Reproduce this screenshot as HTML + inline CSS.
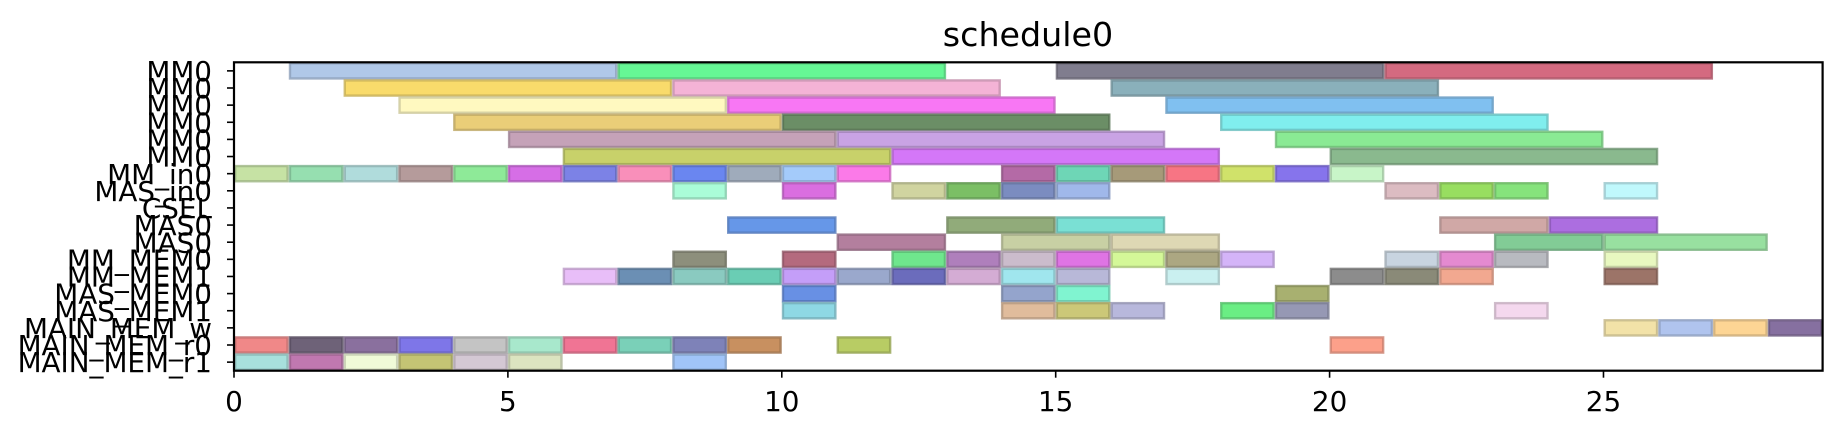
<!DOCTYPE html>
<html><head><meta charset="utf-8"><style>
html,body{margin:0;padding:0;background:#fff;}
svg{display:block;font-family:"DejaVu Sans","Liberation Sans",sans-serif;}
</style></head><body>
<svg id="chart" width="1842" height="438" viewBox="0 0 1842 438" xmlns="http://www.w3.org/2000/svg">
<text x="1028" y="46" font-size="33.3" text-anchor="middle" fill="#000">schedule0</text>
<g id="bars"></g>
<g id="axes"></g>
</svg>
<script>
const rowLabels = ["MM0","MM0","MM0","MM0","MM0","MM0","MM_in0","MAS_in0","CSEL","MAS0","MAS0","MM_MEM0","MM_MEM1","MAS_MEM0","MAS_MEM1","MAIN_MEM_w","MAIN_MEM_r0","MAIN_MEM_r1"];
const xTicks = [0,5,10,15,20,25];
const barRow = [0,0,0,0, 1,1,1, 2,2,2, 3,3,3, 4,4,4, 5,5,5,
 6,6,6,6,6,6,6,6,6,6,6,6,6,6,6,6,6,6,6,
 7,7,7,7,7,7,7,7,7,7,
 9,9,9,9,9, 10,10,10,10,10,
 11,11,11,11,11,11,11,11,11,11,11,11,11,
 12,12,12,12,12,12,12,12,12,12,12,12,12,12,12,
 13,13,13,13, 14,14,14,14,14,14,14, 15,15,15,15,
 16,16,16,16,16,16,16,16,16,16,16,16, 17,17,17,17,17,17,17];
const barStart = [1,7,15,21, 2,8,16, 3,9,17, 4,10,18, 5,11,19, 6,12,20,
 0,1,2,3,4,5,6,7,8,9,10,11,14,15,16,17,18,19,20,
 8,10,12,13,14,15,21,22,23,25,
 9,13,15,22,24, 11,14,16,23,25,
 8,10,12,13,14,15,16,17,18,21,22,23,25,
 6,7,8,9,10,11,12,13,14,15,17,20,21,22,25,
 10,14,15,19, 10,14,15,16,18,19,23, 25,26,27,28,
 0,1,2,3,4,5,6,7,8,9,11,20, 0,1,2,3,4,5,8];
const barEnd = [7,13,21,27, 8,14,22, 9,15,23, 10,16,24, 11,17,25, 12,18,26,
 1,2,3,4,5,6,7,8,9,10,11,12,15,16,17,18,19,20,21,
 9,11,13,14,15,16,22,23,24,26,
 11,15,17,24,26, 13,16,18,25,28,
 9,11,13,14,15,16,17,18,19,22,23,24,26,
 7,8,9,10,11,12,13,14,15,16,18,21,22,23,26,
 11,15,16,20, 11,15,16,17,19,20,24, 26,27,28,29,
 1,2,3,4,5,6,7,8,9,10,12,21, 1,2,3,4,5,6,9];
const barColor = ["#b0c8e8","#66f795","#807d8e","#d46a80", "#f9db6b","#f4b3d6","#8ab0bb", "#fff9c0","#f877f4","#80c0f0", "#eace78","#6b8e66","#80eeee", "#c5a2b8","#c9a3e4","#8aea94", "#c8d16a","#d477f8","#8ab98e",
 "#c6e2a4","#96dfb0","#b0dcdc","#b59b9b","#8eea98","#d66ee6","#7c82e6","#f98fba","#6a86f0","#9fabbb","#a4cbfa","#fb7ae8","#b46aa6","#6ed6b6","#a69a79","#f77584","#d0e26a","#8674ec","#c8f5c8",
 "#aafcd8","#da6ee0","#d0d4a0","#7bbf65","#7b8cc0","#a0b8ea","#dcbcc2","#98de60","#86e37c","#c0f8fc",
 "#6697e8","#91ab7a","#7ae0d4","#d0a8a6","#ac6ee0", "#b37f9e","#c8d0a4","#ded8b4","#82cc96","#98e0a0",
 "#8d8f7c","#b46a7e","#6fe68d","#af7fbc","#cbbccc","#df74e4","#d4f898","#aca782","#d4b4f8","#c8d4e0","#e48ad0","#b8bac0","#e8f8c0",
 "#e8bef8","#6b8fb4","#8acac0","#6acdb4","#c49ef8","#9aa8cc","#6b6cbc","#d4acd4","#a0e6ee","#b8b8d8","#caf0f0","#8c8c8c","#8a8a78","#f2a890","#9c7468",
 "#6890e4","#94a4cc","#80f4d0","#a8b070", "#8ed8e4","#e0bc9c","#ccc878","#b8b8dc","#6aee84","#9698b4","#f4d8ee", "#f2e2a8","#b0c4ee","#fdd594","#8670a0",
 "#f08888","#6e6278","#8a709e","#7e76e8","#c4c4c4","#a8e8cc","#f07494","#7ad0b8","#7e82b8","#c89060","#b8cc64","#fca08a",
 "#a8e0dc","#c078b0","#f0fbd8","#c4c474","#d4c8d4","#dce4c0","#a0c4f8"];

const X0=234, X1=1822.6, XMIN=0, XMAX=29;
const Y0=62.3, Y1=370.7;
const NS="http://www.w3.org/2000/svg";
function xs(v){return X0+(v-XMIN)/(XMAX-XMIN)*(X1-X0);}
const rowH=(Y1-Y0)/rowLabels.length;
function yc(r){return Y0+(r+0.5)*rowH;}
function darken(hex,f){const n=parseInt(hex.slice(1),16);const r=Math.round(((n>>16)&255)*f),g=Math.round(((n>>8)&255)*f),b=Math.round((n&255)*f);return `rgb(${r},${g},${b})`;}
function mk(tag,attrs,parent){const e=document.createElementNS(NS,tag);for(const k in attrs)e.setAttribute(k,attrs[k]);parent.appendChild(e);return e;}
const gb=document.getElementById('bars');
for(let i=0;i<barRow.length;i++){
  const x=xs(barStart[i]), w=xs(barEnd[i])-x, c=yc(barRow[i]);
  const r=mk('rect',{x:x+1.2,y:c-7.6,width:w-2.4,height:15.2,fill:barColor[i],stroke:darken(barColor[i],0.8),'stroke-width':2.4,'stroke-opacity':0.8},gb);
  
  
}
const ga=document.getElementById('axes');
const frame=mk('rect',{x:X0,y:Y0,width:X1-X0,height:Y1-Y0,fill:'none',stroke:'#000','stroke-width':2.2},ga);


for(let r=0;r<rowLabels.length;r++){
  const c=yc(r);
  const t=mk('line',{x1:X0-7,x2:X0,y1:c,y2:c,stroke:'#000','stroke-width':1.6},ga);
  
  
  const l=mk('text',{x:212,y:c+10.1,'font-size':27.8,'text-anchor':'end',fill:'#000'},ga);
  l.textContent=rowLabels[r];
  
  
}
for(const v of xTicks){
  const x=xs(v);
  const t=mk('line',{x1:x,x2:x,y1:Y1,y2:Y1+7,stroke:'#000','stroke-width':1.6},ga);
  
  
  const l=mk('text',{x:x,y:411,'font-size':27.8,'text-anchor':'middle',fill:'#000'},ga);
  l.textContent=v;
  
  
}
</script>
</body></html>
